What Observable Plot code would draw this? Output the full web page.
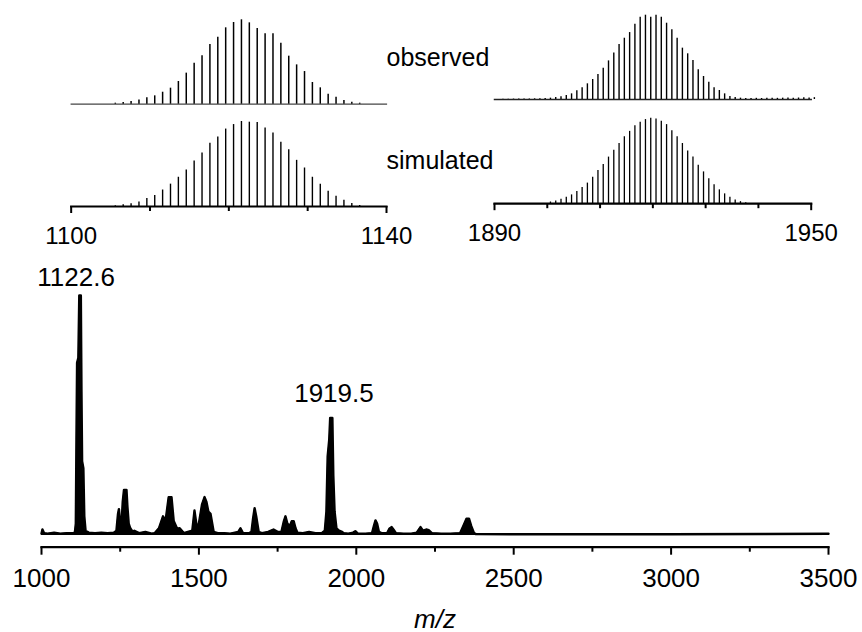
<!DOCTYPE html>
<html>
<head>
<meta charset="utf-8">
<script src="https://cdn.jsdelivr.net/npm/d3@7"></script>
<script src="https://cdn.jsdelivr.net/npm/@observablehq/plot@0.6"></script>
<style>
  body { margin: 0; background: #fff; }
  #chart { position: relative; width: 862px; height: 632px; background: #fff; font-family: "Liberation Sans", Arial, sans-serif; }
</style>
</head>
<body>
<div id="chart"></div>
<script>
// ---------- Main spectrum (m/z, relative intensity) ----------
const specMz = [1000,1003,1008,1020,1040,1060,1080,1100,1106,1109,1111,1113,1117,1120,1125,1127,1129,1133,1136,1140,1150,1170,1190,1210,1230,1238,1243,1246,1250,1254,1258,1262,1270,1273,1277,1282,1290,1295,1310,1330,1350,1360,1373,1386,1394,1404,1413,1420,1431,1439,1452,1465,1479,1486,1494,1500,1510,1518,1524,1530,1537,1547,1560,1580,1600,1625,1632,1640,1660,1667,1672,1677,1682,1690,1700,1720,1737,1750,1762,1770,1775,1781,1789,1795,1801,1807,1813,1830,1850,1870,1890,1900,1905,1909,1914,1917,1924,1927,1931,1937,1945,1955,1960,1975,1990,1997,2005,2030,2050,2056,2061,2066,2072,2080,2098,2105,2112,2118,2126,2150,2175,2192,2204,2212,2222,2230,2240,2270,2300,2330,2340,2350,2358,2365,2374,2380,2500,2700,3000,3300,3500];
const specInt = [0.8,2.5,1,0.8,1.2,0.8,1,1,1.2,5,40,72,74,100,100,60,31,28,8,2,1.2,1,1.2,1,1.2,2,9,11,5,4,14,19,19,12,5,3,1.5,2,1,1.5,0.8,1,3,8,6,16,16,6,2.8,3,1,1.5,2,10.4,2.8,5,13,16,14,10,9,1.5,1,1,0.8,1.5,3,1,1,1.5,7,11.4,8,1.5,1,1.5,2.5,1.5,1.5,6,8,5,4,6,6,3,1.2,1,1.5,1,1,2,10,33,40,49,49,25,10,3,2,1.5,1,0.8,1.2,1.8,0.8,0.8,1,4,6.3,5,1.5,1,1,2.8,3.5,2.5,1,0.8,0.8,1.2,3.5,2,2.5,2.2,1,0.8,0.8,1,4,7,7,4,1,0.6,0.5,0.5,0.5,0.6,0.7];
const peakLabels = ["1122.6", "1919.5"];
const peakMz = [1122.6, 1919.5];
const peakInt = [100, 49];
const mainMajorTicks = [1000, 1500, 2000, 2500, 3000, 3500];
const mainMinorTicks = [1250, 1750, 2250, 2750, 3250];
const xLabel = "m/z";

// ---------- Inset 1: isotope pattern near 1122.6 ----------
const leftMz = [1105.6,1106.6,1107.6,1108.6,1109.6,1110.6,1111.6,1112.6,1113.6,1114.6,1115.6,1116.6,1117.6,1118.6,1119.6,1120.6,1121.6,1122.6,1123.6,1124.6,1125.6,1126.6,1127.6,1128.6,1129.6,1130.6,1131.6,1132.6,1133.6,1134.6,1135.6,1136.6];
const leftObserved = [1.2,2,3.2,5.1,7.5,9.9,14.2,19,26.9,36.8,48.6,57.3,70.8,79.4,90.5,96.8,100,96.4,89.7,83.4,83.4,72.3,56.9,46.6,38.7,25.7,19.4,11.9,8.3,4.3,2.4,1.2];
const leftSimulated = [0.8,2,3.2,5.3,9.3,13,19.4,26.3,34.4,42.9,53.4,62.8,74.5,81.8,91.1,96.4,100,99.2,98.8,92.3,86.6,75.7,66.8,54.3,45.3,34.4,26.3,17.8,12.1,7.3,3.6,1.2];
const leftDomain = [1100, 1140];
const leftLabelTicks = [1100, 1140];
const leftMinorTicks = [1110, 1120, 1130];

// ---------- Inset 2: isotope pattern near 1919.5 ----------
const rightObsMz = [1891.6,1892.6,1893.6,1894.6,1895.6,1896.6,1897.6,1898.6,1899.6,1900.6,1901.6,1902.6,1903.6,1904.6,1905.6,1906.6,1907.6,1908.6,1909.6,1910.6,1911.6,1912.6,1913.6,1914.6,1915.6,1916.6,1917.6,1918.6,1919.6,1920.6,1921.6,1922.6,1923.6,1924.6,1925.6,1926.6,1927.6,1928.6,1929.6,1930.6,1931.6,1932.6,1933.6,1934.6,1935.6,1936.6,1937.6,1938.6,1939.6,1940.6,1941.6,1942.6,1943.6,1944.6,1945.6,1946.6,1947.6,1948.6,1949.6,1950.6];
const rightObserved = [0.4,0.4,0.5,0.5,0.6,0.6,0.8,0.9,1.1,1.6,2.4,3.2,4.7,6.7,10.3,13.8,18.6,23.7,29.6,37.2,45.8,55.3,65.2,72.7,79.4,89.3,97.6,100,97.6,100,97.6,90.5,82.6,72.7,60.9,54.2,46.2,35.2,27.3,20.6,13.8,10.7,6.7,3.6,2.4,1.6,1.2,1.2,1.4,1.2,1.4,1.6,1.4,1.6,1.8,1.6,1.8,2,1.8,2.2];
const rightSimMz = [1900.6,1901.6,1902.6,1903.6,1904.6,1905.6,1906.6,1907.6,1908.6,1909.6,1910.6,1911.6,1912.6,1913.6,1914.6,1915.6,1916.6,1917.6,1918.6,1919.6,1920.6,1921.6,1922.6,1923.6,1924.6,1925.6,1926.6,1927.6,1928.6,1929.6,1930.6,1931.6,1932.6,1933.6,1934.6,1935.6,1936.6,1937.6];
const rightSimulated = [2,3.2,5.1,7.5,10.3,14.2,19,24.1,30.8,38.7,45.8,54.5,62.5,70.4,78.3,84.6,91.3,95.3,98.4,100,99.2,96.4,92.5,85.4,78.3,70.4,61.7,54.5,45,37.2,29.2,22.1,16.2,11.5,7.5,4.3,2.4,1.2];
const rightDomain = [1890, 1950];
const rightLabelTicks = [1890, 1950];
const rightMinorTicks = [1900, 1910, 1920, 1930, 1940];

const seriesLabels = ["observed", "simulated"];

// ---------- build ----------
const FONT = '"Liberation Sans", Arial, sans-serif';
const svgStyle = {background: "transparent", overflow: "visible", fontFamily: FONT, color: "#000", position: "absolute", left: "0px", top: "0px"};
const chart = document.getElementById("chart");
const plain = d => String(d);
const blank = () => "";

const spectrum = specMz.map((mz, i) => ({mz, v: specInt[i]}));
const peaks = peakMz.map((mz, i) => ({mz, v: peakInt[i], label: peakLabels[i]}));
const toSticks = (mz, h) => mz.map((m, i) => ({mz: m, h: h[i]}));

const main = Plot.plot({
  width: 862, height: 632,
  marginLeft: 41, marginRight: 34, marginTop: 295, marginBottom: 85.3,
  x: {domain: [1000, 3500]},
  y: {domain: [-4.875, 100], axis: null},
  style: svgStyle,
  marks: [
    Plot.areaY(spectrum, {x: "mz", y1: 0, y2: "v", fill: "#000"}),
    Plot.lineY(spectrum, {x: "mz", y: "v", stroke: "#000", strokeWidth: 2.4, strokeLinejoin: "round"}),
    Plot.frame({anchor: "bottom", stroke: "#000", strokeWidth: 2.2}),
    Plot.axisX({ticks: mainMajorTicks, tickFormat: plain, tickSize: 8, tickPadding: 13.7, fontSize: 26, strokeWidth: 2, label: null}),
    Plot.axisX({ticks: mainMinorTicks, tickSize: 5, tickFormat: blank, strokeWidth: 2, label: null}),
    Plot.text([xLabel], {frameAnchor: "bottom", lineAnchor: "bottom", dy: 80.3, fontSize: 26, fontStyle: "italic", fill: "#000"}),
    Plot.text(peaks.slice(0, 1), {x: "mz", y: "v", text: "label", lineAnchor: "bottom", dx: -4, dy: -10, fontSize: 26, fill: "#000"}),
    Plot.text(peaks.slice(1, 2), {x: "mz", y: "v", text: "label", lineAnchor: "bottom", dx: 3, dy: -15.5, fontSize: 26, fill: "#000"})
  ]
});
chart.appendChild(main);

// left observed
chart.appendChild(Plot.plot({
  width: 440, height: 110,
  marginLeft: 70.67, marginRight: 54, marginTop: 19.3, marginBottom: 6.3,
  x: {domain: leftDomain, axis: null},
  y: {domain: [0, 100], axis: null},
  style: svgStyle,
  marks: [
    Plot.frame({anchor: "bottom", stroke: "#444", strokeWidth: 1.2}),
    Plot.ruleX(toSticks(leftMz, leftObserved), {x: "mz", y1: 0, y2: "h", stroke: "#000", strokeWidth: 1.5}),
    Plot.text([seriesLabels[0]], {frameAnchor: "right", textAnchor: "start", lineAnchor: "middle", dy: -4.5, fontSize: 25, fill: "#000"})
  ]
}));

// left simulated
chart.appendChild(Plot.plot({
  width: 440, height: 250,
  marginLeft: 70.67, marginRight: 54, marginTop: 121, marginBottom: 44,
  x: {domain: leftDomain},
  y: {domain: [0, 100], axis: null},
  style: svgStyle,
  marks: [
    Plot.ruleX(toSticks(leftMz, leftSimulated), {x: "mz", y1: 0, y2: "h", stroke: "#000", strokeWidth: 1.4}),
    Plot.frame({anchor: "bottom", stroke: "#000", strokeWidth: 2.2}),
    Plot.axisX({ticks: leftLabelTicks, tickFormat: plain, tickSize: 7, tickPadding: 13.5, fontSize: 24, strokeWidth: 2, label: null}),
    Plot.axisX({ticks: leftMinorTicks, tickSize: 5, tickFormat: blank, strokeWidth: 2, label: null}),
    Plot.text([seriesLabels[1]], {frameAnchor: "right", textAnchor: "start", lineAnchor: "middle", dy: -3.5, fontSize: 25, fill: "#000"})
  ]
}));

// right observed
chart.appendChild(Plot.plot({
  width: 862, height: 110,
  marginLeft: 494, marginRight: 51.3, marginTop: 14.7, marginBottom: 11,
  x: {domain: rightDomain, axis: null},
  y: {domain: [0, 100], axis: null},
  style: svgStyle,
  marks: [
    Plot.frame({anchor: "bottom", stroke: "#222", strokeWidth: 1.5}),
    Plot.ruleX(toSticks(rightObsMz, rightObserved), {x: "mz", y1: 0, y2: "h", stroke: "#000", strokeWidth: 1.4})
  ]
}));

// right simulated
chart.appendChild(Plot.plot({
  width: 862, height: 250,
  marginLeft: 494, marginRight: 51.3, marginTop: 117.7, marginBottom: 46.8,
  x: {domain: rightDomain},
  y: {domain: [0, 100], axis: null},
  style: svgStyle,
  marks: [
    Plot.ruleX(toSticks(rightSimMz, rightSimulated), {x: "mz", y1: 0, y2: "h", stroke: "#000", strokeWidth: 1.3}),
    Plot.frame({anchor: "bottom", stroke: "#000", strokeWidth: 2.2}),
    Plot.axisX({ticks: rightLabelTicks, tickFormat: plain, tickSize: 7, tickPadding: 13.5, fontSize: 24, strokeWidth: 2, label: null}),
    Plot.axisX({ticks: rightMinorTicks, tickSize: 5, tickFormat: blank, strokeWidth: 2, label: null})
  ]
}));
</script>
</body>
</html>
